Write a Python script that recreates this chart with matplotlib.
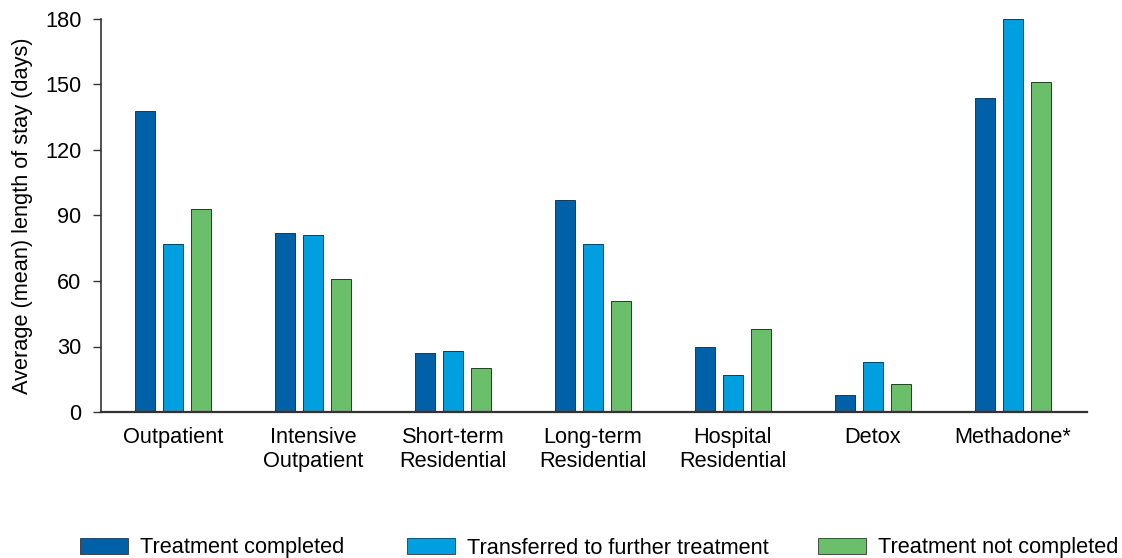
import numpy as np
import matplotlib
matplotlib.use("Agg")
import matplotlib.pyplot as plt
import matplotlib.patches as mpatches

plt.rcParams['font.family'] = ['Liberation Sans', 'DejaVu Sans']

## data
categories = ['Outpatient', 'Intensive\nOutpatient', 'Short-term\nResidential',
              'Long-term\nResidential', 'Hospital\nResidential', 'Detox', 'Methadone*']
completed = [138, 82, 27, 97, 30, 8, 144]
transferred = [77, 81, 28, 77, 17, 23, 180]
not_completed = [93, 61, 20, 51, 38, 13, 151]

series_names = ['Treatment completed', 'Transferred to further treatment', 'Treatment not completed']
colors = ['#0060a8', '#009fe0', '#6bbf6a']
y_ticks = [0, 30, 60, 90, 120, 150, 180]

fs = 15.7

fig = plt.figure(figsize=(11.22, 5.58), dpi=100)
ax = fig.add_axes([101 / 1122, 1 - 412 / 558, (1087 - 101) / 1122, (412 - 19) / 558])

x = np.arange(len(categories))
width = 0.145
offsets = [-0.2, 0, 0.2]
for vals, off, c in zip([completed, transferred, not_completed], offsets, colors):
    ax.bar(x + off, vals, width, color=c, edgecolor='#333333', linewidth=0.7)

ax.set_xlim(-0.515, 6.53)
ax.set_ylim(0, 180)
ax.set_yticks(y_ticks)
ax.set_xticks(x)
ax.set_xticklabels(categories, fontsize=fs, linespacing=1.15)
ax.tick_params(axis='x', length=0, pad=11)
ax.tick_params(axis='y', length=6, width=1, color='#333333', pad=8, labelsize=fs)
ax.set_ylabel('Average (mean) length of stay (days)', fontsize=fs, labelpad=9)

for s in ['top', 'right']:
    ax.spines[s].set_visible(False)
ax.spines['left'].set_color('#333333')
ax.spines['bottom'].set_color('#333333')
ax.spines['left'].set_linewidth(1.2)
ax.spines['bottom'].set_linewidth(1.6)

# legend, one entry per block along the bottom
legend_x = [80 / 1122, 407 / 1122, 818 / 1122]
for name, c, lx in zip(series_names, colors, legend_x):
    h = mpatches.Patch(facecolor=c, edgecolor='#333333', linewidth=0.6)
    fig.legend([h], [name], loc='center left', bbox_to_anchor=(lx, 1 - 548 / 558),
               frameon=False, fontsize=fs, handlelength=2.2, handleheight=0.78,
               handletextpad=0.55, borderpad=0, borderaxespad=0)

fig.savefig('out.png', dpi=100)
